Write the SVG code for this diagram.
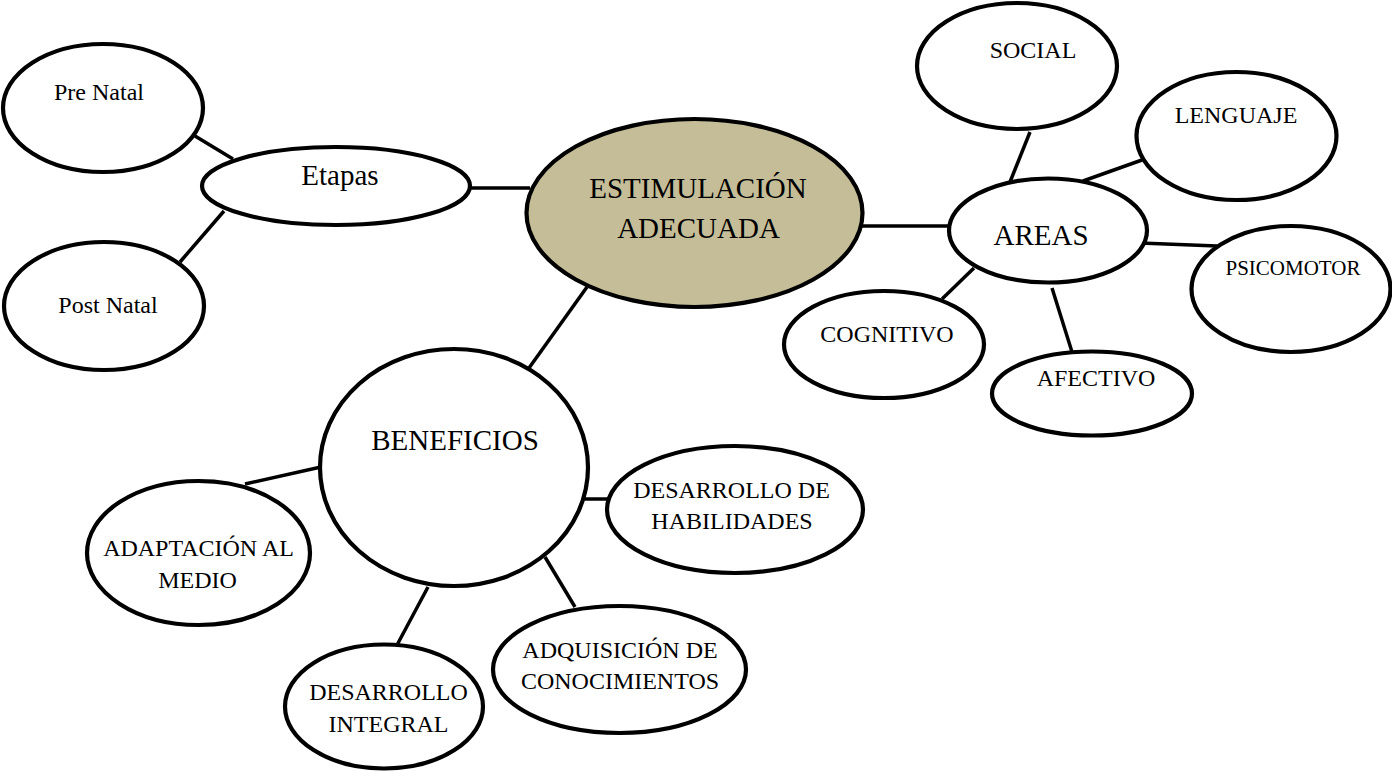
<svg xmlns="http://www.w3.org/2000/svg" width="1392" height="776" viewBox="0 0 1392 776">
<style>
.n{fill:#fff;stroke:#000;stroke-width:4.2}
.c{fill:#c4bd97;stroke:#000;stroke-width:4.2}
.t{font-family:"Liberation Serif","Times New Roman",serif;fill:#000;text-anchor:middle}
.s24{font-size:24px}
.s29{font-size:29px}
.s21{font-size:21px}
#connectors line{stroke:#000;stroke-width:3.5}
</style>
<rect width="1392" height="776" fill="#fff"/>
<g id="connectors">
<line x1="195" y1="136" x2="233" y2="159"/>
<line x1="180" y1="262" x2="224" y2="211"/>
<line x1="468" y1="188" x2="530" y2="188"/>
<line x1="860" y1="226" x2="951" y2="226"/>
<line x1="587" y1="287" x2="529" y2="368"/>
<line x1="1030" y1="132" x2="1010" y2="182"/>
<line x1="1142" y1="160" x2="1083" y2="181"/>
<line x1="1140" y1="243" x2="1217" y2="246"/>
<line x1="974" y1="268" x2="942" y2="299"/>
<line x1="1052" y1="288" x2="1072" y2="352"/>
<line x1="245" y1="484" x2="321" y2="467"/>
<line x1="428" y1="587" x2="397" y2="645"/>
<line x1="585" y1="499" x2="608" y2="499"/>
<line x1="545" y1="557" x2="575" y2="607"/>
</g>
<g id="prenatal"><ellipse class="n" cx="103" cy="108" rx="100" ry="64"/><text class="t s24" x="99" y="100">Pre Natal</text></g>
<g id="postnatal"><ellipse class="n" cx="104" cy="306" rx="100" ry="64"/><text class="t s24" x="108" y="313">Post Natal</text></g>
<g id="etapas"><ellipse class="n" cx="336" cy="186" rx="134" ry="39"/><text class="t s29" x="340" y="185">Etapas</text></g>
<g id="estimulacion"><ellipse class="c" cx="694.5" cy="213" rx="168" ry="94"/><text class="t s29" x="698" y="198">ESTIMULACIÓN</text><text class="t s29" x="698.5" y="238">ADECUADA</text></g>
<g id="social"><ellipse class="n" cx="1017" cy="66" rx="100" ry="63"/><text class="t s24" x="1033" y="58">SOCIAL</text></g>
<g id="lenguaje"><ellipse class="n" cx="1236.5" cy="136" rx="100" ry="64"/><text class="t s24" x="1236" y="123">LENGUAJE</text></g>
<g id="areas"><ellipse class="n" cx="1048" cy="230.5" rx="99" ry="52"/><text class="t s29" x="1041" y="245">AREAS</text></g>
<g id="psicomotor"><ellipse class="n" cx="1291" cy="289" rx="99.5" ry="63"/><text class="t s21" x="1293" y="275">PSICOMOTOR</text></g>
<g id="cognitivo"><ellipse class="n" cx="884" cy="344.5" rx="100" ry="53.5"/><text class="t s24" x="887" y="342">COGNITIVO</text></g>
<g id="afectivo"><ellipse class="n" cx="1092" cy="393.5" rx="100" ry="42"/><text class="t s24" x="1096" y="386">AFECTIVO</text></g>
<g id="beneficios"><ellipse class="n" cx="454" cy="467.5" rx="134" ry="118.5"/><text class="t s29" x="455" y="450">BENEFICIOS</text></g>
<g id="habilidades"><ellipse class="n" cx="735" cy="509.5" rx="128" ry="63.5"/><text class="t s24" x="731.5" y="498">DESARROLLO DE</text><text class="t s24" x="732" y="529">HABILIDADES</text></g>
<g id="adaptacion"><ellipse class="n" cx="198.5" cy="553" rx="111.5" ry="72"/><text class="t s24" x="198.5" y="556">ADAPTACIÓN AL</text><text class="t s24" x="197.5" y="588">MEDIO</text></g>
<g id="integral"><ellipse class="n" cx="384" cy="706.5" rx="99" ry="62"/><text class="t s24" x="388.5" y="700">DESARROLLO</text><text class="t s24" x="388.5" y="732">INTEGRAL</text></g>
<g id="adquisicion"><ellipse class="n" cx="619.5" cy="669.5" rx="126.5" ry="63.5"/><text class="t s24" x="620" y="658">ADQUISICIÓN DE</text><text class="t s24" x="620" y="689">CONOCIMIENTOS</text></g>
</svg>
